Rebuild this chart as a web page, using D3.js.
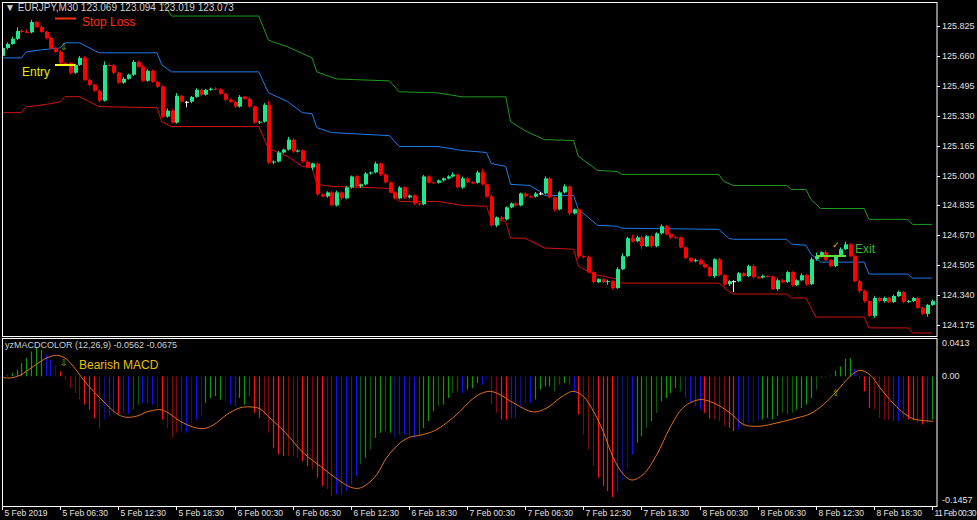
<!DOCTYPE html>
<html><head><meta charset="utf-8">
<script src="https://cdn.jsdelivr.net/npm/d3@7"></script>
<style>
body{margin:0;background:#000;}
svg{display:block;font-family:"Liberation Sans",Arial,sans-serif;}
</style></head>
<body><svg id="c" width="977" height="520"></svg>
<script>
// EURJPY M30 closes, first open separately
const firstOpen = 125.660;
const closes = [
125.704,125.726,125.754,125.798,125.792,125.790,125.847,125.820,125.792,125.759,
125.704,125.682,125.622,125.620,125.567,125.610,125.649,125.528,125.500,125.468,
125.413,125.610,125.608,125.567,125.512,125.534,125.556,125.627,125.600,125.523,
125.578,125.517,125.490,125.325,125.358,125.292,125.440,125.407,125.407,125.434,
125.473,125.446,125.473,125.479,125.475,125.451,125.418,125.407,125.380,125.434,
125.424,125.380,125.292,125.297,125.390,125.072,125.077,125.127,125.143,125.198,
125.132,125.138,125.077,125.044,125.066,124.896,124.885,124.907,124.835,124.907,
124.874,124.934,124.995,124.940,124.951,125.011,125.017,125.066,125.006,124.962,
124.907,124.874,124.934,124.879,124.890,124.846,124.841,124.995,124.962,124.960,
124.973,124.984,124.995,125.006,124.934,124.984,124.962,124.960,125.017,124.951,
124.885,124.725,124.769,124.758,124.824,124.846,124.835,124.901,124.885,124.883,
124.901,124.901,124.984,124.879,124.813,124.907,124.940,124.791,124.813,124.555,
124.549,124.467,124.412,124.428,124.412,124.417,124.379,124.483,124.555,124.654,
124.637,124.659,124.610,124.665,124.610,124.681,124.720,124.676,124.659,124.657,
124.604,124.544,124.527,124.533,124.511,124.494,124.445,124.538,124.450,124.400,
124.417,124.417,124.461,124.445,124.500,124.439,124.437,124.445,124.443,124.373,
124.422,124.412,124.467,124.395,124.422,124.450,124.400,124.538,124.555,124.577,
124.533,124.500,124.555,124.593,124.620,124.555,124.417,124.362,124.307,124.225,
124.324,124.307,124.324,124.302,124.335,124.357,124.302,124.307,124.324,124.269,
124.236,124.286,124.307];
// wick lengths in points (0.001)
const wickUp = [
10,8,12,20,8,15,12,5,8,6,5,6,8,3,5,6,10,10,5,6,
8,20,8,6,5,8,6,10,6,10,8,6,5,8,12,8,15,5,5,5,
8,6,5,6,8,6,5,8,5,10,5,8,6,5,10,20,6,8,5,15,
8,6,5,6,5,5,5,6,8,10,5,8,5,6,5,8,5,10,5,6,
5,5,8,6,5,6,5,8,6,5,5,5,6,12,5,10,8,6,10,20,
6,10,5,6,6,5,8,5,5,6,8,8,12,6,5,6,12,5,5,6,
5,10,5,5,6,8,5,10,15,8,20,8,10,6,8,5,10,8,5,8,
6,5,5,8,8,5,6,5,8,5,5,5,6,5,8,10,5,8,5,5,
10,5,8,5,6,10,5,10,20,5,10,5,8,10,15,6,5,8,8,5,
10,6,8,5,8,8,5,6,6,5,6,5,8];
const wickDn = [
10,8,5,6,5,5,6,5,5,8,6,5,8,5,10,6,5,5,8,5,
8,5,6,10,5,6,5,8,5,6,6,5,8,5,6,5,6,5,30,8,
5,6,5,6,5,5,8,5,6,5,5,6,5,8,5,8,10,5,6,5,
8,5,6,5,15,8,5,8,5,6,8,5,6,5,8,5,6,5,8,6,
5,6,5,8,5,8,6,5,6,5,5,6,5,6,5,8,5,6,5,5,
6,8,10,5,6,5,6,5,8,6,5,10,5,6,12,5,6,10,5,10,
6,5,8,6,5,15,8,5,6,5,6,5,15,5,8,6,5,6,8,5,
6,5,8,6,5,6,5,10,6,8,10,60,5,6,5,8,6,5,5,5,
8,6,5,8,6,5,10,5,8,6,8,5,6,5,5,5,6,10,8,5,
10,6,8,5,5,6,8,5,6,5,5,15,5];

// channel lines: [bar, price]
const upperBand = [[30,126.02],[33,125.96],[35,125.880],[53,125.880],[55,125.748],[56,125.737],[59,125.710],[64,125.649],[65,125.572],[69,125.533],[80,125.522],[82,125.462],[90,125.456],[95,125.434],[104,125.434],[105,125.297],[108,125.247],[112,125.198],[118,125.193],[119,125.105],[123,125.028],[127,125.022],[128,125.006],[148,125.006],[149,124.967],[151,124.945],[162,124.945],[163,124.923],[166,124.923],[167,124.868],[169,124.818],[178,124.818],[179,124.758],[187,124.758],[188,124.730],[192,124.730]];
const midBand = [[0,125.649],[4,125.649],[5,125.682],[8,125.693],[12,125.704],[13,125.732],[16,125.732],[20,125.677],[32,125.677],[33,125.610],[35,125.572],[53,125.572],[55,125.457],[59,125.407],[62,125.347],[64,125.341],[65,125.264],[68,125.237],[80,125.220],[82,125.160],[90,125.160],[95,125.138],[100,125.127],[101,125.066],[104,125.050],[105,124.951],[109,124.945],[111,124.912],[112,124.890],[118,124.890],[119,124.813],[123,124.725],[127,124.720],[128,124.709],[148,124.703],[150,124.654],[151,124.648],[162,124.648],[163,124.621],[166,124.615],[167,124.566],[169,124.522],[178,124.522],[179,124.456],[187,124.456],[188,124.434],[192,124.434]];
const lowerBand = [[0,125.347],[4,125.347],[5,125.380],[7,125.385],[10,125.396],[12,125.407],[13,125.435],[16,125.435],[20,125.380],[32,125.374],[33,125.297],[35,125.270],[53,125.270],[55,125.149],[59,125.105],[62,125.050],[64,125.044],[65,124.951],[68,124.940],[80,124.929],[82,124.857],[90,124.857],[95,124.835],[100,124.830],[101,124.758],[104,124.747],[105,124.654],[108,124.654],[112,124.600],[118,124.593],[119,124.500],[122,124.456],[127,124.428],[128,124.406],[148,124.406],[150,124.362],[151,124.346],[162,124.346],[163,124.324],[166,124.324],[168,124.219],[178,124.219],[179,124.159],[187,124.159],[188,124.131],[192,124.131]];

// MACD histogram and colour codes (G green, g dark green, B blue, b dark blue, R red, r dark red)
const macdHist = [
-0.0019,0.0012,0.0039,0.0078,0.0155,0.0214,0.0291,0.0330,0.0311,0.0253,
0.0194,0.0136,0.0058,-0.0039,-0.0136,-0.0194,-0.0272,-0.0330,-0.0389,-0.0486,
-0.0610,-0.0505,-0.0466,-0.0427,-0.0439,-0.0427,-0.0439,-0.0389,-0.0330,-0.0311,
-0.0311,-0.0330,-0.0369,-0.0505,-0.0602,-0.0719,-0.0660,-0.0641,-0.0660,-0.0544,
-0.0505,-0.0466,-0.0311,-0.0253,-0.0233,-0.0272,-0.0291,-0.0330,-0.0350,-0.0253,
-0.0330,-0.0233,-0.0427,-0.0486,-0.0447,-0.0660,-0.0835,-0.0913,-0.0932,-0.0932,
-0.0932,-0.0952,-0.0991,-0.1049,-0.1088,-0.1185,-0.1282,-0.1321,-0.1399,-0.1379,
-0.1379,-0.1340,-0.1263,-0.1166,-0.1030,-0.0952,-0.0855,-0.0719,-0.0660,-0.0641,
-0.0660,-0.0719,-0.0680,-0.0680,-0.0699,-0.0719,-0.0680,-0.0602,-0.0524,-0.0408,
-0.0350,-0.0330,-0.0253,-0.0194,-0.0175,-0.0194,-0.0155,-0.0136,-0.0078,-0.0097,
-0.0039,-0.0330,-0.0427,-0.0505,-0.0505,-0.0486,-0.0486,-0.0369,-0.0311,-0.0311,
-0.0272,-0.0155,-0.0117,-0.0117,-0.0175,-0.0097,-0.0078,-0.0097,-0.0194,-0.0447,
-0.0680,-0.0855,-0.1049,-0.1185,-0.1282,-0.1340,-0.1410,-0.1360,-0.1224,-0.1088,
-0.0913,-0.0777,-0.0699,-0.0602,-0.0524,-0.0427,-0.0291,-0.0253,-0.0194,-0.0136,
-0.0175,-0.0253,-0.0311,-0.0350,-0.0389,-0.0427,-0.0493,-0.0505,-0.0524,-0.0583,
-0.0602,-0.0641,-0.0622,-0.0583,-0.0544,-0.0544,-0.0524,-0.0505,-0.0486,-0.0505,
-0.0466,-0.0427,-0.0447,-0.0427,-0.0389,-0.0369,-0.0330,-0.0253,-0.0155,-0.0019,
-0.0012,0.0012,0.0066,0.0117,0.0206,0.0214,0.0078,-0.0027,-0.0175,-0.0369,
-0.0389,-0.0486,-0.0505,-0.0505,-0.0524,-0.0524,-0.0486,-0.0505,-0.0517,-0.0544,
-0.0563,-0.0544,-0.0505];
const histCodes = ("BGGGGGGGGB"+"BbRrrrrRRR"+"rbBBRBBggB"+"BBbRrrrBBb"+"BbGGGGbBBG"+
  "GgRRrrRRRr"+"rrRRrRRrrB"+"BBBBgGgGGg"+"GbBBBBgGGG"+"gGGggBGGGB"+
  "brrRRBBbbB"+"GGGGggGgBR"+"rrrRRRRBbb"+"BGGgGgGGGG"+"gBBBBRRrrr"+
  "RRBBbbbGGG"+"GgggGGGGgg"+"ggGGGGBBRR"+"rrrrBBBRRr"+"RBG").split("");
const signalPts = [[0,-0.0012],[1.7,-0.0019],[3.7,0.0012],[6.5,0.0117],[9.2,0.0214],[11.3,0.0245],[13,0.0214],[14.7,0.0117],[16.8,-0.0039],[18.9,-0.0175],[21.6,-0.0330],[24,-0.0447],[25.7,-0.0478],[27.8,-0.0466],[29.9,-0.0416],[32.6,-0.0389],[34,-0.0416],[36.8,-0.0525],[39.5,-0.0594],[41.6,-0.0610],[43.6,-0.0571],[46.4,-0.0447],[49.1,-0.0369],[51.2,-0.0357],[53.3,-0.0381],[55.3,-0.0486],[57.4,-0.0594],[59.5,-0.0719],[61.5,-0.0855],[63.6,-0.0960],[65.7,-0.1049],[67.7,-0.1138],[69.8,-0.1224],[71.9,-0.1294],[73.6,-0.1309],[75.3,-0.1263],[77.4,-0.1146],[79.4,-0.0952],[82.2,-0.0777],[84.2,-0.0711],[86.3,-0.0688],[89.1,-0.0641],[91.8,-0.0544],[94.6,-0.0408],[96.6,-0.0291],[98.7,-0.0206],[100.8,-0.0175],[102.8,-0.0214],[105.6,-0.0311],[109.7,-0.0416],[112.5,-0.0369],[115.2,-0.0253],[117.9,-0.0175],[120,-0.0233],[122.1,-0.0408],[124.1,-0.0641],[126.2,-0.0952],[128.3,-0.1146],[130,-0.1212],[132.4,-0.1146],[135.2,-0.0913],[137.9,-0.0602],[140.7,-0.0361],[144.1,-0.0272],[146.9,-0.0311],[150.3,-0.0427],[153.1,-0.0563],[156.5,-0.0583],[160,-0.0544],[164.1,-0.0486],[166.8,-0.0439],[169.6,-0.0330],[172.3,-0.0175],[175.1,0.0000],[177.1,0.0070],[179.2,0.0019],[181.3,-0.0136],[183.3,-0.0272],[186.1,-0.0427],[188.2,-0.0497],[190.2,-0.0517],[192.3,-0.0525]];

const priceTicks = [125.825,125.660,125.495,125.330,125.165,125.000,124.835,124.670,124.505,124.340,124.175];
const timeLabels = ["5 Feb 2019","5 Feb 06:30","5 Feb 12:30","5 Feb 18:30","6 Feb 00:30","6 Feb 06:30","6 Feb 12:30","6 Feb 18:30","7 Feb 00:30","7 Feb 06:30","7 Feb 12:30","7 Feb 18:30","8 Feb 00:30","8 Feb 06:30","8 Feb 12:30","8 Feb 18:30","11 Feb 00:30"];
const timeBars = d3.range(0, 193, 12);

const histColor = {G:"#0a9a0a", g:"#0b5a0b", B:"#1010f0", b:"#10107a", R:"#ff1010", r:"#7a0a0a"};

const svg = d3.select("#c");
const right = 937;
const x = d3.scaleLinear().domain([0, 192]).range([2, 932]);
const y = d3.scaleLinear().domain([124.175, 125.825]).range([325, 26]);
const ym = d3.scaleLinear().domain([-0.1457, 0.0413]).range([501, 341]);

svg.append("rect").attr("width", 977).attr("height", 520).attr("fill", "#000");
const defs = svg.append("defs");
defs.append("clipPath").attr("id", "cp").append("rect").attr("x", 3).attr("y", 3).attr("width", right - 3).attr("height", 333);
defs.append("clipPath").attr("id", "cm").append("rect").attr("x", 3).attr("y", 339).attr("width", right - 3).attr("height", 167);

// frames
svg.append("rect").attr("x", 2.5).attr("y", 2.5).attr("width", right - 2.5).attr("height", 334).attr("fill", "none").attr("stroke", "#fff");
svg.append("rect").attr("x", 2.5).attr("y", 338.5).attr("width", right - 2.5).attr("height", 168).attr("fill", "none").attr("stroke", "#fff");

// price panel
const gp = svg.append("g").attr("clip-path", "url(#cp)");
const line = d3.line().x(d => x(d[0])).y(d => y(d[1]));
gp.append("path").attr("d", line(upperBand)).attr("fill", "none").attr("stroke", "#1f9a1f").attr("stroke-width", 1);
gp.append("path").attr("d", line(midBand)).attr("fill", "none").attr("stroke", "#1e7ae6").attr("stroke-width", 1);
gp.append("path").attr("d", line(lowerBand)).attr("fill", "none").attr("stroke", "#d01010").attr("stroke-width", 1);

const candles = closes.map((c, i) => {
  const o = i === 0 ? firstOpen : closes[i - 1];
  return {i, o, c, h: Math.max(o, c) + wickUp[i] / 1000, l: Math.min(o, c) - wickDn[i] / 1000};
});
const col = d => d.c > d.o ? "#1ee68c" : d.c < d.o ? "#ff0000" : "#ffffff";
const cg = gp.selectAll("g.k").data(candles).enter().append("g");
cg.append("line")
  .attr("x1", d => Math.round(x(d.i)) + 0.5).attr("x2", d => Math.round(x(d.i)) + 0.5)
  .attr("y1", d => y(d.h)).attr("y2", d => y(d.l)).attr("stroke", col);
cg.append("rect")
  .attr("x", d => Math.round(x(d.i)) - 1).attr("width", 4)
  .attr("y", d => y(Math.max(d.o, d.c)))
  .attr("height", d => Math.max(1, y(Math.min(d.o, d.c)) - y(Math.max(d.o, d.c))))
  .attr("fill", col);

// annotations price panel
svg.append("text").attr("x", 5).attr("y", 11).attr("fill", "#d0d0d0").attr("font-size", 10).text("▼ EURJPY,M30  123.069 123.094 123.019 123.073");
svg.append("line").attr("x1", 55).attr("x2", 76).attr("y1", 18.5).attr("y2", 18.5).attr("stroke", "#ff3010").attr("stroke-width", 2);
svg.append("text").attr("x", 82).attr("y", 26).attr("fill", "#ff3010").attr("font-size", 12).text("Stop Loss");
svg.append("line").attr("x1", 55).attr("x2", 75).attr("y1", 65).attr("y2", 65).attr("stroke", "#ffff00").attr("stroke-width", 2);
svg.append("text").attr("x", 22).attr("y", 76).attr("fill", "#e8e800").attr("font-size", 12).text("Entry");
svg.append("text").attr("x", 60).attr("y", 50).attr("fill", "#a8a820").attr("font-size", 9).text("⇩");
svg.append("line").attr("x1", 816).attr("x2", 846).attr("y1", 256).attr("y2", 256).attr("stroke", "#66dd33").attr("stroke-width", 2);
svg.append("text").attr("x", 855).attr("y", 253).attr("fill", "#33bb33").attr("font-size", 12).text("Exit");
svg.append("text").attr("x", 832).attr("y", 248).attr("fill", "#d8c000").attr("font-size", 9).text("✓");

// MACD panel
const gm = svg.append("g").attr("clip-path", "url(#cm)");
gm.selectAll("line.h").data(macdHist).enter().append("line")
  .attr("x1", (d, i) => Math.round(x(i)) + 0.5).attr("x2", (d, i) => Math.round(x(i)) + 0.5)
  .attr("y1", ym(0)).attr("y2", d => ym(d))
  .attr("stroke", (d, i) => histColor[histCodes[i]]).attr("stroke-width", 1.2);
gm.append("path")
  .attr("d", d3.line().x(d => x(d[0])).y(d => ym(d[1])).curve(d3.curveCatmullRom)(signalPts))
  .attr("fill", "none").attr("stroke", "#e07020").attr("stroke-width", 1);
svg.append("text").attr("x", 5).attr("y", 348).attr("fill", "#d0d0d0").attr("font-size", 9).text("yzMACDCOLOR (12,26,9) -0.0562 -0.0675");
svg.append("text").attr("x", 79).attr("y", 369).attr("fill", "#e6c000").attr("font-size", 12).text("Bearish MACD");
svg.append("text").attr("x", 60).attr("y", 366).attr("fill", "#a8a820").attr("font-size", 9).text("⇩");
svg.append("text").attr("x", 832).attr("y", 396).attr("fill", "#c8b000").attr("font-size", 9).text("⇧");

// right axis
const ra = svg.append("g").attr("fill", "#e0e0e0").attr("font-size", 9);
priceTicks.forEach(p => {
  svg.append("line").attr("x1", right).attr("x2", right + 3).attr("y1", Math.round(y(p)) + 0.5).attr("y2", Math.round(y(p)) + 0.5).attr("stroke", "#fff");
  ra.append("text").attr("x", right + 5).attr("y", y(p) + 3).text(p.toFixed(3));
});
ra.append("text").attr("x", right + 5).attr("y", ym(0.0413) + 5).text("0.0413");
ra.append("text").attr("x", right + 5).attr("y", ym(0) + 3).text("0.00");
ra.append("text").attr("x", right + 5).attr("y", ym(-0.1457) + 2).text("-0.1457");

// time axis
timeBars.forEach((b, k) => {
  const xx = Math.round(x(b)) + 0.5;
  svg.append("line").attr("x1", xx).attr("x2", xx).attr("y1", 507).attr("y2", 510).attr("stroke", "#fff");
  svg.append("text").attr("x", xx + 2).attr("y", 516).attr("fill", "#e0e0e0").attr("font-size", 8.5)
    .attr("textLength", k === timeLabels.length - 1 ? 42 : null).text(timeLabels[k]);
});
</script></body></html>
